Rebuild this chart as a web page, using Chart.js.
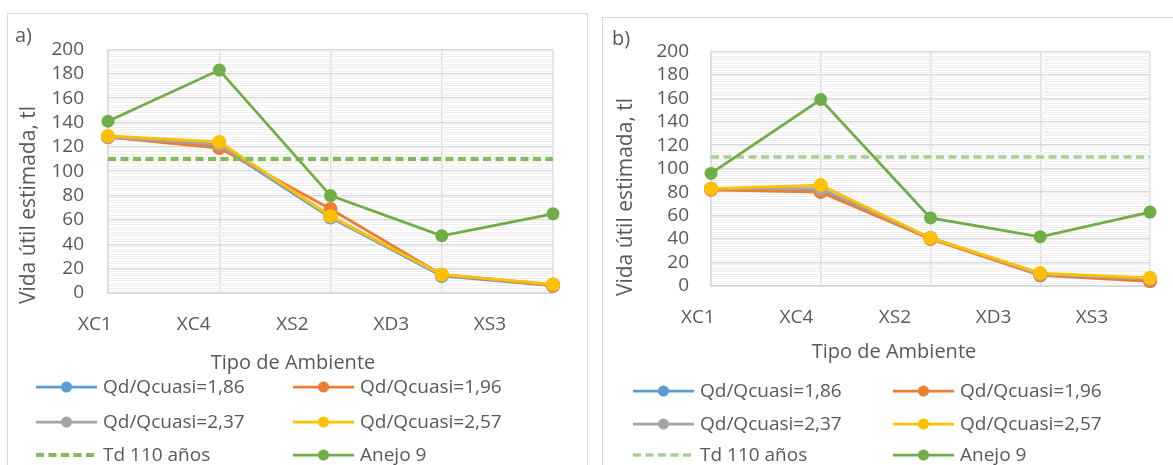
<!DOCTYPE html>
<html>
<head>
<meta charset="utf-8">
<script src="https://cdn.jsdelivr.net/npm/chart.js@4/dist/chart.umd.min.js"></script>
<style>
  html, body { margin: 0; padding: 0; background: #ffffff; overflow: hidden; }
  body { width: 1173px; height: 465px; position: relative; }
  .panel { position: absolute; border: 1px solid #d9d9d9; background: #ffffff; }
  .panel canvas { position: absolute; left: 0; top: 0; }
</style>
</head>
<body>
<div class="panel" id="panelA" style="left:7px; top:13px; width:579px; height:470px;">
  <canvas id="chartA" width="579" height="452"></canvas>
</div>
<div class="panel" id="panelB" style="left:602px; top:17px; width:590px; height:470px;">
  <canvas id="chartB" width="580" height="448"></canvas>
</div>
<script>
// Exposure classes along the horizontal axis
const categories = ['XC1', 'XC4', 'XS2', 'XD3', 'XS3'];

// Series names, shared by both panels
const seriesLabels = ['Qd/Qcuasi=1,86', 'Qd/Qcuasi=1,96', 'Qd/Qcuasi=2,37', 'Qd/Qcuasi=2,57', 'Td 110 años', 'Anejo 9'];

// Panel a) estimated service life (years)
const aQd186 = [128, 121, 62, 14, 6];
const aQd196 = [128, 119, 69, 15, 6];
const aQd237 = [128, 122, 63, 15, 7];
const aQd257 = [129, 124, 63, 15, 7];
const aAnejo9 = [141, 183, 80, 47, 65];

// Panel b) estimated service life (years)
const bQd186 = [83, 82, 41, 10, 5];
const bQd196 = [82, 80, 40, 9, 4];
const bQd237 = [83, 83, 41, 10, 6];
const bQd257 = [83, 86, 41, 11, 7];
const bAnejo9 = [96, 159, 58, 42, 63];

// Design service life reference
const tdYears = 110;

// Value axis
const yMin = 0;
const yMax = 200;
const yMajorStep = 20;
const yMinorStep = 2;

const TEXT = '#595959';
const FONT = "'Open Sans', 'Noto Sans', sans-serif";
const COLORS = ['#5B9BD5', '#ED7D31', '#A5A5A5', '#FFC000', null, '#70AD47'];

// Draws the panel tag, axis titles, category labels and the two-column legend
const panelText = {
  id: 'panelText',
  afterDraw(chart, args, o) {
    const ctx = chart.ctx;
    const area = chart.chartArea;
    ctx.save();
    ctx.fillStyle = TEXT;
    ctx.textBaseline = 'middle';

    // panel tag
    ctx.font = '20px ' + FONT;
    ctx.textAlign = 'left';
    ctx.fillText(o.tag, o.tagX, o.tagY);

    // category labels
    ctx.font = '19px ' + FONT;
    ctx.textAlign = 'center';
    chart.data.labels.forEach((lab, i) => {
      ctx.fillText(lab, area.left + o.labelShift + i * o.labelStep, o.labelY);
    });

    // x title
    ctx.font = '20px ' + FONT;
    ctx.fillText(o.xTitle, o.xTitleX, o.xTitleY);

    // y title
    ctx.save();
    ctx.translate(o.yTitleX, o.yTitleY);
    ctx.rotate(-Math.PI / 2);
    ctx.font = '21px ' + FONT;
    ctx.fillText(o.yTitle, 0, 0);
    ctx.restore();

    // legend, two columns in dataset order
    ctx.font = '19px ' + FONT;
    ctx.textAlign = 'left';
    chart.data.datasets.forEach((ds, i) => {
      const row = Math.floor(i / 2);
      const col = i % 2;
      const x0 = o.legendCols[col];
      const y = o.legendRows[row];
      ctx.save();
      ctx.strokeStyle = ds.borderColor;
      ctx.lineWidth = ds.borderWidth;
      ctx.setLineDash(ds.borderDash || []);
      ctx.beginPath();
      ctx.moveTo(x0, y);
      ctx.lineTo(x0 + 61, y);
      ctx.stroke();
      ctx.setLineDash([]);
      if (ds.pointRadius > 0) {
        ctx.fillStyle = ds.pointBackgroundColor;
        ctx.beginPath();
        ctx.arc(x0 + 30.5, y, 5.5, 0, Math.PI * 2);
        ctx.fill();
      }
      ctx.restore();
      ctx.fillText(ds.label, x0 + 67, y + 1);
    });
    ctx.restore();
  }
};

function buildDatasets(q186, q196, q237, q257, anejo, tdColor, tdWidth) {
  const series = [q186, q196, q237, q257];
  const ds = series.map((vals, i) => ({
    label: seriesLabels[i],
    data: vals,
    borderColor: COLORS[i],
    backgroundColor: COLORS[i],
    pointBackgroundColor: COLORS[i],
    pointBorderColor: COLORS[i],
    borderWidth: 2.75,
    pointRadius: 7,
    pointBorderWidth: 0,
    order: 6 - i,
    clip: false
  }));
  ds.push({
    label: seriesLabels[4],
    data: categories.map(() => tdYears),
    borderColor: tdColor,
    backgroundColor: tdColor,
    borderWidth: tdWidth,
    borderDash: [8, 4.5],
    borderCapStyle: 'butt',
    pointRadius: 0,
    order: 2,
    clip: false
  });
  ds.push({
    label: seriesLabels[5],
    data: anejo,
    borderColor: COLORS[5],
    backgroundColor: COLORS[5],
    pointBackgroundColor: COLORS[5],
    pointBorderColor: COLORS[5],
    borderWidth: 2.75,
    pointRadius: 6.5,
    pointBorderWidth: 0,
    order: 1,
    clip: false
  });
  return ds;
}

function makeChart(canvasId, datasets, geo, text) {
  return new Chart(document.getElementById(canvasId), {
    type: 'line',
    data: { labels: categories, datasets: datasets },
    options: {
      responsive: false,
      animation: false,
      events: [],
      layout: { padding: { top: geo.top, right: geo.right, left: 0, bottom: 0 } },
      elements: { line: { tension: 0 } },
      plugins: {
        legend: { display: false },
        tooltip: { enabled: false },
        panelText: text
      },
      scales: {
        x: {
          type: 'category',
          offset: false,
          ticks: { display: false },
          grid: { color: '#d9d9d9', lineWidth: 1.5, drawTicks: false },
          border: { color: '#d9d9d9', width: 2 },
          afterFit(s) { s.height = geo.xHeight; }
        },
        y: {
          min: yMin,
          max: yMax,
          ticks: {
            stepSize: yMinorStep,
            autoSkip: false,
            maxTicksLimit: 1000,
            padding: geo.tickPad,
            color: TEXT,
            font: { family: FONT, size: 19 },
            callback: (v) => (v % yMajorStep === 0 ? String(v) : '')
          },
          grid: {
            drawTicks: false,
            color: (c) => (c.tick && c.tick.value % yMajorStep === 0 ? '#d9d9d9' : '#efefef'),
            lineWidth: (c) => (c.tick && c.tick.value % yMajorStep === 0 ? 1.5 : 1)
          },
          border: { color: '#d9d9d9', width: 1.5 },
          afterFit(s) { s.width = geo.yWidth; }
        }
      }
    },
    plugins: [panelText]
  });
}

makeChart('chartA',
  buildDatasets(aQd186, aQd196, aQd237, aQd257, aAnejo9, '#80BB5C', 4),
  { top: 14, right: 34, yWidth: 100, xHeight: 173, tickPad: 24 },
  {
    tag: 'a)', tagX: 7, tagY: 22,
    labelShift: -13, labelStep: 98.75, labelY: 311,
    xTitle: 'Tipo de Ambiente', xTitleX: 285, xTitleY: 349,
    yTitle: 'Vida útil estimada, tl', yTitleX: 21, yTitleY: 191,
    legendCols: [28, 285], legendRows: [373, 408, 441]
  });

makeChart('chartB',
  buildDatasets(bQd186, bQd196, bQd237, bQd257, bAnejo9, '#A9D18E', 3.5),
  { top: 14, right: 33, yWidth: 108, xHeight: 180, tickPad: 22 },
  {
    tag: 'b)', tagX: 9, tagY: 21,
    labelShift: -13, labelStep: 98.5, labelY: 300,
    xTitle: 'Tipo de Ambiente', xTitleX: 291, xTitleY: 334,
    yTitle: 'Vida útil estimada, tl', yTitleX: 23, yTitleY: 179,
    legendCols: [30, 290], legendRows: [373, 406, 437]
  });
</script>
</body>
</html>
